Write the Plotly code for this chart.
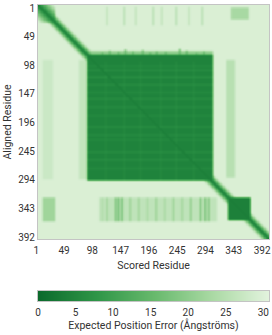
import numpy as np
import plotly.graph_objects as go

# ---------------- data ----------------
n_res = 400
tick_vals = [1, 49, 98, 147, 196, 245, 294, 343, 392]
cbar_ticks = [0, 5, 10, 15, 20, 25, 30]
pae_max = 30.75

background_pae = 29.5          # off-diagonal, unstructured
diag_pae = 2.0                 # on the diagonal
diag_slope = 1.9               # increase per residue away from diagonal
nterm_end = 30                 # N-terminal compact segment
nterm_slope = 0.9              # slower increase inside it

# rectangles: aligned rows (start, end), scored cols (start, end), PAE
block_row_start = [86, 330, 86,  80, 5,   95,  95,  95, 330, 330]
block_row_end   = [300, 368, 97, 85, 25,  295, 298, 298, 370, 370]
block_col_start = [86, 330, 86,  86, 335, 327, 72,  9,  107, 9]
block_col_end   = [303, 368, 303, 303, 365, 341, 85, 26,  310, 30]
block_pae       = [4.5, 4,  11,  20,  23,  25, 26.5, 27.5, 26, 22]

# lighter rows inside the main domain (row, PAE)
stripe_rows = [105, 112, 124, 137, 150, 161, 175, 190, 209, 223, 231, 252, 265, 280]
stripe_pae = [8, 9, 10, 10, 8, 10, 9, 8, 10, 9, 8, 10, 9, 8]

# lighter columns inside the main domain (column, PAE)
stripe_cols = [118, 150, 178, 213, 240, 270]
stripe_col_pae = [7, 7, 7.5, 7, 7.5, 7]

# spikes above the main domain: column and highest row reached
spike_cols = [112, 125, 140, 152, 165, 182, 195, 206, 222, 246, 258, 275, 288]
spike_top = [82, 79, 81, 77, 80, 78, 82, 80, 81, 76, 79, 83, 80]
spike_pae = 15

# column streaks in C-domain rows (column, PAE)
c_streak_cols = [112, 120, 135, 140, 146, 160, 175, 190, 205, 220, 235, 250, 265, 282, 290, 296]
c_streak_pae = [24, 22, 17, 15, 16, 21, 22, 23, 21, 23, 21, 22, 20, 17, 16, 18]

# faint column streaks in N-terminal rows (column, PAE)
n_streak_cols = [120, 150, 170, 200, 215, 240, 262, 285]
n_streak_pae = [26, 25, 26, 25, 26, 25, 26, 25]

# ---------------- build the matrix ----------------
pae = np.full((n_res, n_res), background_pae)
for r0, r1, c0, c1, v in zip(block_row_start, block_row_end, block_col_start, block_col_end, block_pae):
    sub = pae[r0 - 1:r1, c0 - 1:c1]
    pae[r0 - 1:r1, c0 - 1:c1] = np.minimum(sub, v)

for r, v in zip(stripe_rows, stripe_pae):
    pae[r - 1, 85:303] = np.maximum(pae[r - 1, 85:303], v)

for c, v in zip(stripe_cols, stripe_col_pae):
    pae[97:300, c - 1] = np.maximum(pae[97:300, c - 1], v)

for c, top in zip(spike_cols, spike_top):
    pae[top - 1:85, c - 2:c + 1] = np.minimum(pae[top - 1:85, c - 2:c + 1], spike_pae)

for c, v in zip(c_streak_cols, c_streak_pae):
    pae[329:370, c - 2:c + 1] = np.minimum(pae[329:370, c - 2:c + 1], v)

for c, v in zip(n_streak_cols, n_streak_pae):
    pae[3:35, c - 2:c + 1] = np.minimum(pae[3:35, c - 2:c + 1], v)

idx = np.arange(n_res)
dist = np.abs(idx[:, None] - idx[None, :])
pae = np.minimum(pae, diag_pae + diag_slope * dist)
nt = nterm_end
pae[:nt, :nt] = np.minimum(pae[:nt, :nt], diag_pae + 2 + nterm_slope * dist[:nt, :nt])

# soften like the picture
k = np.array([1, 2, 3, 4, 3, 2, 1], dtype=float)
k /= k.sum()
pad = len(k) // 2
tmp = np.pad(pae, pad, mode="edge")
tmp = np.apply_along_axis(lambda v: np.convolve(v, k, mode="valid"), 0, tmp)
tmp = np.apply_along_axis(lambda v: np.convolve(v, k, mode="valid"), 1, tmp)
pae = tmp

residues = np.arange(1, n_res + 1)
scale_levels = np.linspace(0, pae_max, 232)   # gradient of the colour scale bar

colorscale = [
    [0.0, "#0b6a2c"],
    [0.25, "#2e9547"],
    [0.5, "#67b96c"],
    [0.75, "#a9d9a3"],
    [1.0, "#e3f3de"],
]

# ---------------- figure ----------------
W, H = 272, 335
m_l, m_r, m_t, m_b = 38, 3, 5, 34
plot_h = H - m_t - m_b                  # 296
main_bottom_px = 239
bar_h_px = 10
main_lo = (H - m_b - main_bottom_px) / plot_h
bar_hi = bar_h_px / plot_h

fig = go.Figure()
fig.add_trace(
    go.Heatmap(
        z=pae, x=residues, y=residues,
        zmin=0, zmax=pae_max, colorscale=colorscale,
        showscale=False, hoverinfo="skip",
        xaxis="x", yaxis="y",
    )
)
fig.add_trace(
    go.Heatmap(
        z=[scale_levels], x=scale_levels, y=[0],
        zmin=0, zmax=pae_max, colorscale=colorscale,
        showscale=False, hoverinfo="skip",
        xaxis="x2", yaxis="y2",
    )
)

frame = dict(
    showgrid=False, zeroline=False, showline=True, mirror=True,
    linecolor="#c4c4c4", linewidth=1, automargin=False, ticks="",
    ticklabeloverflow="allow",
    tickfont=dict(size=10, color="#333333"),
)

fig.update_layout(
    template="none",
    width=W, height=H,
    margin=dict(l=m_l, r=m_r, t=m_t, b=m_b),
    paper_bgcolor="white",
    plot_bgcolor="white",
    font=dict(family="Roboto, Open Sans, sans-serif", color="#333333"),
    xaxis=dict(
        domain=[0, 1], anchor="y",
        range=[0.5, n_res + 0.5], tickvals=tick_vals,
        ticklabelshift=-2, ticklabelstandoff=2,
        title=dict(text="Scored Residue", font=dict(size=10.5), standoff=6),
        **frame,
    ),
    yaxis=dict(
        domain=[main_lo, 1], anchor="x",
        range=[n_res + 0.5, 0.5], tickvals=tick_vals,
        ticklabelshift=-3,
        title=dict(text="Aligned Residue", font=dict(size=10.5), standoff=4),
        **frame,
    ),
    xaxis2=dict(
        domain=[0, 1], anchor="y2",
        range=[0, pae_max], tickvals=cbar_ticks,
        ticklabelstandoff=2,
        title=dict(text="Expected Position Error (Ångströms)", font=dict(size=10.5), standoff=0),
        **frame,
    ),
    yaxis2=dict(
        domain=[0, bar_hi], anchor="x2",
        range=[-0.5, 0.5], showticklabels=False,
        **{k_: v for k_, v in frame.items() if k_ not in ("tickfont", "ticklabeloverflow")},
    ),
)

fig.write_html(
    "out.html",
    config={"displayModeBar": False},
    post_script="document.body.style.margin='0';document.body.style.padding='0';",
)
